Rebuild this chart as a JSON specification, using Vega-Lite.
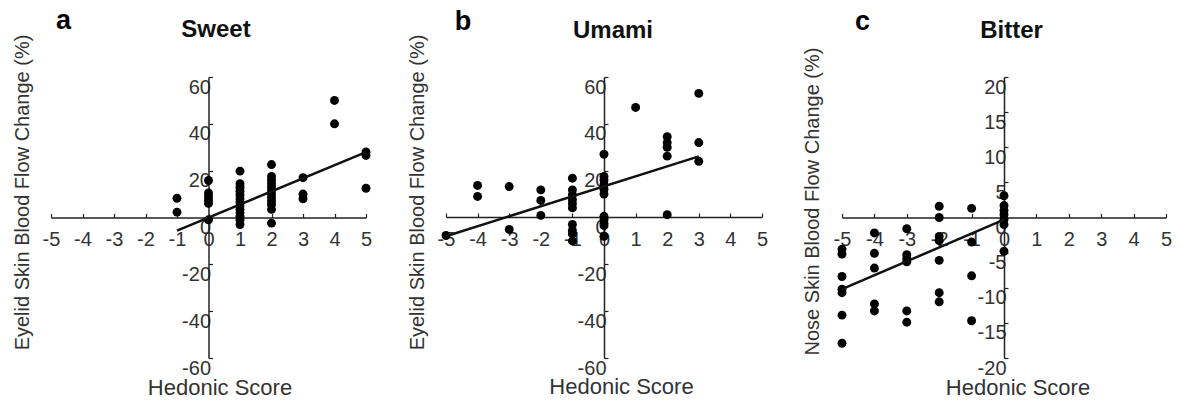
{
  "$schema": "https://vega.github.io/schema/vega-lite/v6.json",
  "autosize": {"type": "none"},
  "padding": {"left": 51, "top": 77, "right": 1130, "bottom": 324},
  "background": "white",
  "bounds": "flush",
  "spacing": 80,
  "datasets": {
    "sweet": [
      {"score": -1, "change": 8.2}, {"score": -1, "change": 2.3},
      {"score": 0, "change": 15.8}, {"score": 0, "change": 10.5}, {"score": 0, "change": 9}, {"score": 0, "change": 7.5}, {"score": 0, "change": 6}, {"score": 0, "change": -1},
      {"score": 1, "change": 19.8}, {"score": 1, "change": 14.4}, {"score": 1, "change": 12.8}, {"score": 1, "change": 11.2}, {"score": 1, "change": 9.6}, {"score": 1, "change": 8}, {"score": 1, "change": 6.5}, {"score": 1, "change": 5}, {"score": 1, "change": 3.5}, {"score": 1, "change": 2}, {"score": 1, "change": 0.5}, {"score": 1, "change": -1}, {"score": 1, "change": -3},
      {"score": 2, "change": 22.6}, {"score": 2, "change": 17.5}, {"score": 2, "change": 16}, {"score": 2, "change": 14.5}, {"score": 2, "change": 13}, {"score": 2, "change": 11.5}, {"score": 2, "change": 10}, {"score": 2, "change": 8.5}, {"score": 2, "change": 7}, {"score": 2, "change": 5.5}, {"score": 2, "change": 3.5}, {"score": 2, "change": -2.4},
      {"score": 3, "change": 17}, {"score": 3, "change": 10}, {"score": 3, "change": 8},
      {"score": 4, "change": 50}, {"score": 4, "change": 40},
      {"score": 5, "change": 28}, {"score": 5, "change": 26.5}, {"score": 5, "change": 12.5}
    ],
    "umami": [
      {"score": -5, "change": -7.7},
      {"score": -4, "change": 13.7}, {"score": -4, "change": 9},
      {"score": -3, "change": 13.2}, {"score": -3, "change": -5.1},
      {"score": -2, "change": 11.8}, {"score": -2, "change": 7.3}, {"score": -2, "change": 0.9},
      {"score": -1, "change": 16.8}, {"score": -1, "change": 11.8}, {"score": -1, "change": 9.7}, {"score": -1, "change": 7.6}, {"score": -1, "change": 5.9}, {"score": -1, "change": 4.1}, {"score": -1, "change": -3}, {"score": -1, "change": -5.5}, {"score": -1, "change": -7}, {"score": -1, "change": -10},
      {"score": 0, "change": 27}, {"score": 0, "change": 17.5}, {"score": 0, "change": 16}, {"score": 0, "change": 14}, {"score": 0, "change": 12}, {"score": 0, "change": 10}, {"score": 0, "change": 0.5}, {"score": 0, "change": -1}, {"score": 0, "change": -2.5}, {"score": 0, "change": -3.5}, {"score": 0, "change": -8},
      {"score": 1, "change": 47},
      {"score": 2, "change": 34.5}, {"score": 2, "change": 32}, {"score": 2, "change": 30}, {"score": 2, "change": 26.2}, {"score": 2, "change": 1.2},
      {"score": 3, "change": 53}, {"score": 3, "change": 32}, {"score": 3, "change": 24}
    ],
    "bitter": [
      {"score": -5, "change": -4.5}, {"score": -5, "change": -5.2}, {"score": -5, "change": -8.4}, {"score": -5, "change": -10.2}, {"score": -5, "change": -10.7}, {"score": -5, "change": -13.9}, {"score": -5, "change": -17.9},
      {"score": -4, "change": -2.2}, {"score": -4, "change": -5.1}, {"score": -4, "change": -7.2}, {"score": -4, "change": -12.3}, {"score": -4, "change": -13.3},
      {"score": -3, "change": -1.6}, {"score": -3, "change": -5.3}, {"score": -3, "change": -5.8}, {"score": -3, "change": -6.3}, {"score": -3, "change": -13.3}, {"score": -3, "change": -14.9},
      {"score": -2, "change": 1.6}, {"score": -2, "change": 0}, {"score": -2, "change": -2.7}, {"score": -2, "change": -3.3}, {"score": -2, "change": -6.1}, {"score": -2, "change": -10.7}, {"score": -2, "change": -12},
      {"score": -1, "change": 1.3}, {"score": -1, "change": -3.5}, {"score": -1, "change": -8.3}, {"score": -1, "change": -14.7},
      {"score": 0, "change": 3.1}, {"score": 0, "change": 1.7}, {"score": 0, "change": 1}, {"score": 0, "change": 0.4}, {"score": 0, "change": -0.3}, {"score": 0, "change": -1}, {"score": 0, "change": -4.8}
    ],
    "sweetFit": [{"score": -1, "change": -5.6}, {"score": 5, "change": 27.9}],
    "umamiFit": [{"score": -5, "change": -8}, {"score": 3, "change": 26.1}],
    "bitterFit": [{"score": -5, "change": -10.2}, {"score": 0, "change": -0.3}]
  },
  "hconcat": [
    {
      "width": 315,
      "height": 281,
      "title": {"text": "Sweet", "fontSize": 24, "fontWeight": "bold", "color": "#111", "anchor": "middle", "frame": "group", "dx": 7.5, "offset": -54, "baseline": "alphabetic"},
      "layer": [
        {
          "data": {"name": "sweet"},
          "mark": {"type": "circle", "size": 80, "color": "#000", "opacity": 1},
          "encoding": {
            "x": {"field": "score", "type": "quantitative", "scale": {"domain": [-5, 5], "nice": false, "zero": false},
              "axis": {"values": [-5, -4, -3, -2, -1, 0, 1, 2, 3, 4, 5], "labelOverlap": false, "labelExpr": "toString(datum.value)", "offset": -140.5, "tickSize": -4, "labelPadding": 16, "labelBaseline": "top", "title": "Hedonic Score", "titleX": 168.5, "titleY": 169.5, "titleBaseline": "middle", "titleAlign": "center", "titleFontSize": 22}},
            "y": {"field": "change", "type": "quantitative", "scale": {"domain": [-60, 60], "nice": false, "zero": false},
              "axis": {"values": [-60, -40, -20, 0, 20, 40, 60], "labelOverlap": false, "labelExpr": "toString(datum.value)", "offset": -157.5, "tickSize": -4, "labelPadding": 2, "labelBaseline": "top", "title": "Eyelid Skin Blood Flow Change (%)", "titleX": -186, "titleY": 115, "titleBaseline": "middle", "titleAlign": "center", "titleAngle": -90}}
          }
        },
        {
          "data": {"name": "sweetFit"},
          "mark": {"type": "line", "color": "#111", "strokeWidth": 2.5},
          "encoding": {
            "x": {"field": "score", "type": "quantitative",
              "axis": {"values": [-5, -4, -3, -2, -1, 0, 1, 2, 3, 4, 5], "labelOverlap": false, "labelExpr": "toString(datum.value)", "offset": -140.5, "tickSize": -4, "labelPadding": 16, "labelBaseline": "top", "title": "Hedonic Score", "titleX": 168.5, "titleY": 169.5, "titleBaseline": "middle", "titleAlign": "center", "titleFontSize": 22}},
            "y": {"field": "change", "type": "quantitative",
              "axis": {"values": [-60, -40, -20, 0, 20, 40, 60], "labelOverlap": false, "labelExpr": "toString(datum.value)", "offset": -157.5, "tickSize": -4, "labelPadding": 2, "labelBaseline": "top", "title": "Eyelid Skin Blood Flow Change (%)", "titleX": -186, "titleY": 115, "titleBaseline": "middle", "titleAlign": "center", "titleAngle": -90}}
          }
        },
        {
          "data": {"values": [{"letter": "a"}]},
          "mark": {"type": "text", "fontSize": 27, "fontWeight": "bold", "align": "center", "baseline": "alphabetic", "color": "#000"},
          "encoding": {
            "x": {"datum": -4.6, "type": "quantitative",
              "axis": {"values": [-5, -4, -3, -2, -1, 0, 1, 2, 3, 4, 5], "labelOverlap": false, "labelExpr": "toString(datum.value)", "offset": -140.5, "tickSize": -4, "labelPadding": 16, "labelBaseline": "top", "title": "Hedonic Score", "titleX": 168.5, "titleY": 169.5, "titleBaseline": "middle", "titleAlign": "center", "titleFontSize": 22}},
            "y": {"datum": 80.4, "type": "quantitative",
              "axis": {"values": [-60, -40, -20, 0, 20, 40, 60], "labelOverlap": false, "labelExpr": "toString(datum.value)", "offset": -157.5, "tickSize": -4, "labelPadding": 2, "labelBaseline": "top", "title": "Eyelid Skin Blood Flow Change (%)", "titleX": -186, "titleY": 115, "titleBaseline": "middle", "titleAlign": "center", "titleAngle": -90}},
            "text": {"field": "letter"}
          }
        }
      ]
    },
    {
      "width": 316,
      "height": 281,
      "title": {"text": "Umami", "fontSize": 24, "fontWeight": "bold", "color": "#111", "anchor": "middle", "frame": "group", "dx": 9, "offset": -54, "baseline": "alphabetic"},
      "layer": [
        {
          "data": {"name": "umami"},
          "mark": {"type": "circle", "size": 80, "color": "#000", "opacity": 1},
          "encoding": {
            "x": {"field": "score", "type": "quantitative", "scale": {"domain": [-5, 5], "nice": false, "zero": false},
              "axis": {"values": [-5, -4, -3, -2, -1, 0, 1, 2, 3, 4, 5], "labelOverlap": false, "labelExpr": "toString(datum.value)", "offset": -141, "tickSize": -4, "labelPadding": 16, "labelBaseline": "top", "title": "Hedonic Score", "titleX": 175, "titleY": 169.5, "titleBaseline": "middle", "titleAlign": "center", "titleFontSize": 22}},
            "y": {"field": "change", "type": "quantitative", "scale": {"domain": [-60, 60], "nice": false, "zero": false},
              "axis": {"values": [-60, -40, -20, 0, 20, 40, 60], "labelOverlap": false, "labelExpr": "toString(datum.value)", "offset": -158, "tickSize": -4, "labelPadding": 2, "labelBaseline": "top", "title": "Eyelid Skin Blood Flow Change (%)", "titleX": -187, "titleY": 115, "titleBaseline": "middle", "titleAlign": "center", "titleAngle": -90}}
          }
        },
        {
          "data": {"name": "umamiFit"},
          "mark": {"type": "line", "color": "#111", "strokeWidth": 2.5},
          "encoding": {
            "x": {"field": "score", "type": "quantitative",
              "axis": {"values": [-5, -4, -3, -2, -1, 0, 1, 2, 3, 4, 5], "labelOverlap": false, "labelExpr": "toString(datum.value)", "offset": -141, "tickSize": -4, "labelPadding": 16, "labelBaseline": "top", "title": "Hedonic Score", "titleX": 175, "titleY": 169.5, "titleBaseline": "middle", "titleAlign": "center", "titleFontSize": 22}},
            "y": {"field": "change", "type": "quantitative",
              "axis": {"values": [-60, -40, -20, 0, 20, 40, 60], "labelOverlap": false, "labelExpr": "toString(datum.value)", "offset": -158, "tickSize": -4, "labelPadding": 2, "labelBaseline": "top", "title": "Eyelid Skin Blood Flow Change (%)", "titleX": -187, "titleY": 115, "titleBaseline": "middle", "titleAlign": "center", "titleAngle": -90}}
          }
        },
        {
          "data": {"values": [{"letter": "b"}]},
          "mark": {"type": "text", "fontSize": 27, "fontWeight": "bold", "align": "center", "baseline": "alphabetic", "color": "#000"},
          "encoding": {
            "x": {"datum": -4.46, "type": "quantitative",
              "axis": {"values": [-5, -4, -3, -2, -1, 0, 1, 2, 3, 4, 5], "labelOverlap": false, "labelExpr": "toString(datum.value)", "offset": -141, "tickSize": -4, "labelPadding": 16, "labelBaseline": "top", "title": "Hedonic Score", "titleX": 175, "titleY": 169.5, "titleBaseline": "middle", "titleAlign": "center", "titleFontSize": 22}},
            "y": {"datum": 80, "type": "quantitative",
              "axis": {"values": [-60, -40, -20, 0, 20, 40, 60], "labelOverlap": false, "labelExpr": "toString(datum.value)", "offset": -158, "tickSize": -4, "labelPadding": 2, "labelBaseline": "top", "title": "Eyelid Skin Blood Flow Change (%)", "titleX": -187, "titleY": 115, "titleBaseline": "middle", "titleAlign": "center", "titleAngle": -90}},
            "text": {"field": "letter"}
          }
        }
      ]
    },
    {
      "width": 324,
      "height": 281,
      "title": {"text": "Bitter", "fontSize": 24, "fontWeight": "bold", "color": "#111", "anchor": "middle", "frame": "group", "dx": 7.5, "offset": -54, "baseline": "alphabetic"},
      "layer": [
        {
          "data": {"name": "bitter"},
          "mark": {"type": "circle", "size": 80, "color": "#000", "opacity": 1},
          "encoding": {
            "x": {"field": "score", "type": "quantitative", "scale": {"domain": [-5, 5], "nice": false, "zero": false},
              "axis": {"values": [-5, -4, -3, -2, -1, 0, 1, 2, 3, 4, 5], "labelOverlap": false, "labelExpr": "toString(datum.value)", "offset": -140.5, "tickSize": -4, "labelPadding": 16, "labelBaseline": "top", "title": "Hedonic Score", "titleX": 175.5, "titleY": 169.5, "titleBaseline": "middle", "titleAlign": "center", "titleFontSize": 22}},
            "y": {"field": "change", "type": "quantitative", "scale": {"domain": [-20, 20], "nice": false, "zero": false},
              "axis": {"values": [-20, -15, -10, -5, 0, 5, 10, 15, 20], "labelOverlap": false, "labelExpr": "toString(datum.value)", "offset": -162, "tickSize": -4, "labelPadding": 2, "labelBaseline": "top", "title": "Nose Skin Blood Flow Change (%)", "titleX": -192, "titleY": 124, "titleBaseline": "middle", "titleAlign": "center", "titleAngle": -90}}
          }
        },
        {
          "data": {"name": "bitterFit"},
          "mark": {"type": "line", "color": "#111", "strokeWidth": 2.5},
          "encoding": {
            "x": {"field": "score", "type": "quantitative",
              "axis": {"values": [-5, -4, -3, -2, -1, 0, 1, 2, 3, 4, 5], "labelOverlap": false, "labelExpr": "toString(datum.value)", "offset": -140.5, "tickSize": -4, "labelPadding": 16, "labelBaseline": "top", "title": "Hedonic Score", "titleX": 175.5, "titleY": 169.5, "titleBaseline": "middle", "titleAlign": "center", "titleFontSize": 22}},
            "y": {"field": "change", "type": "quantitative",
              "axis": {"values": [-20, -15, -10, -5, 0, 5, 10, 15, 20], "labelOverlap": false, "labelExpr": "toString(datum.value)", "offset": -162, "tickSize": -4, "labelPadding": 2, "labelBaseline": "top", "title": "Nose Skin Blood Flow Change (%)", "titleX": -192, "titleY": 124, "titleBaseline": "middle", "titleAlign": "center", "titleAngle": -90}}
          }
        },
        {
          "data": {"values": [{"letter": "c"}]},
          "mark": {"type": "text", "fontSize": 27, "fontWeight": "bold", "align": "center", "baseline": "alphabetic", "color": "#000"},
          "encoding": {
            "x": {"datum": -4.37, "type": "quantitative",
              "axis": {"values": [-5, -4, -3, -2, -1, 0, 1, 2, 3, 4, 5], "labelOverlap": false, "labelExpr": "toString(datum.value)", "offset": -140.5, "tickSize": -4, "labelPadding": 16, "labelBaseline": "top", "title": "Hedonic Score", "titleX": 175.5, "titleY": 169.5, "titleBaseline": "middle", "titleAlign": "center", "titleFontSize": 22}},
            "y": {"datum": 26.7, "type": "quantitative",
              "axis": {"values": [-20, -15, -10, -5, 0, 5, 10, 15, 20], "labelOverlap": false, "labelExpr": "toString(datum.value)", "offset": -162, "tickSize": -4, "labelPadding": 2, "labelBaseline": "top", "title": "Nose Skin Blood Flow Change (%)", "titleX": -192, "titleY": 124, "titleBaseline": "middle", "titleAlign": "center", "titleAngle": -90}},
            "text": {"field": "letter"}
          }
        }
      ]
    }
  ],
  "config": {
    "font": "Liberation Sans",
    "view": {"stroke": null},
    "axis": {
      "grid": false,
      "domainColor": "#222",
      "domainWidth": 1.5,
      "tickColor": "#222",
      "tickWidth": 1.2,
      "labelColor": "#333",
      "labelFontSize": 20,
      "labelOverlap": false,
      "labelFlush": false,
      "titleFontSize": 20,
      "titleFontWeight": "normal",
      "titleColor": "#333"
    },
    "axisY": {"labelAlign": "right"}
  }
}
